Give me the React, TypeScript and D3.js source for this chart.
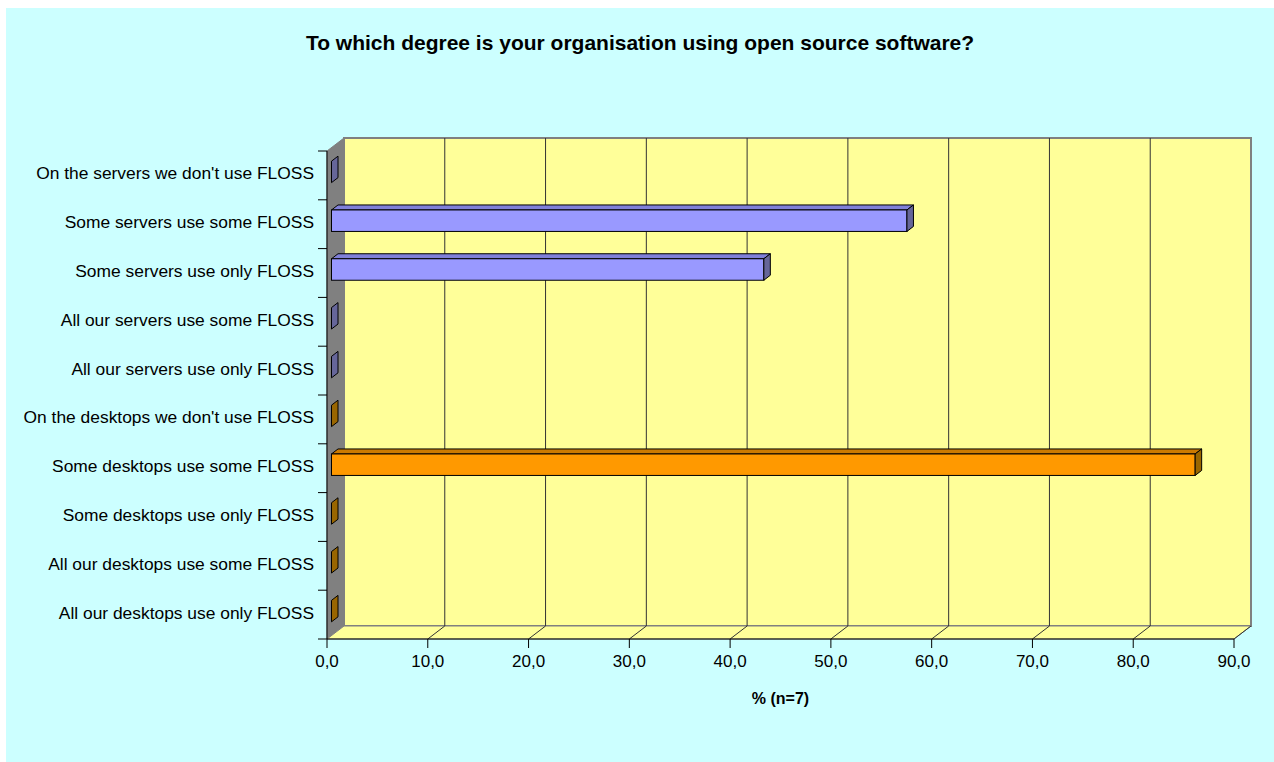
import React, { useRef, useEffect } from 'react';
import * as d3 from 'd3';

const categories = [
  "On the servers we don't use FLOSS",
  'Some servers use some FLOSS',
  'Some servers use only FLOSS',
  'All our servers use some FLOSS',
  'All our servers use only FLOSS',
  "On the desktops we don't use FLOSS",
  'Some desktops use some FLOSS',
  'Some desktops use only FLOSS',
  'All our desktops use some FLOSS',
  'All our desktops use only FLOSS',
];
const values = [0, 57.1, 42.9, 0, 0, 0, 85.7, 0, 0, 0];
const groups = ['servers', 'servers', 'servers', 'servers', 'servers', 'desktops', 'desktops', 'desktops', 'desktops', 'desktops'];
const xTicks = [0, 10, 20, 30, 40, 50, 60, 70, 80, 90];

const title = 'To which degree is your organisation using open source software?';
const xTitle = '% (n=7)';

const App = () => {
  const width = 1274;
  const height = 762;
  const ref = useRef<SVGSVGElement | null>(null);

  useEffect(() => {
    if (!ref.current) return;
    const svg = d3.select(ref.current);
    svg.selectAll('*').remove();
    const font = 'Liberation Sans, Arial, sans-serif';

    // plot frame (front plane) and depth offset of the 3d box
    const left = 327, right = 1234, top = 151, bottom = 639;
    const depth = { dx: 17, dy: -13 };
    const front = { dx: 4.5, dy: -3.5 };
    const back = { dx: 11, dy: -8.5 };

    const x = d3.scaleLinear().domain([0, 90]).range([left, right]);
    const y = d3.scaleBand<string>().domain(categories).range([top, bottom])
      .paddingInner(0.56).paddingOuter(0.28);
    const band = d3.scaleBand<string>().domain(categories).range([top, bottom]);

    const color = d3.scaleOrdinal<string, string>().domain(['servers', 'desktops']).range(['#9999FF', '#FF9900']);
    const topColor = d3.scaleOrdinal<string, string>().domain(['servers', 'desktops']).range(['#8080D9', '#CC7A00']);
    const sideColor = d3.scaleOrdinal<string, string>().domain(['servers', 'desktops']).range(['#666699', '#996600']);

    svg.append('rect').attr('x', 6).attr('y', 8).attr('width', width - 6).attr('height', height - 8)
      .style('fill', '#CCFFFF');

    const pts = (p: number[][]) => p.map(d => d.join(',')).join(' ');

    // back wall
    svg.append('polygon')
      .attr('points', pts([
        [left + depth.dx, top + depth.dy], [right + depth.dx, top + depth.dy],
        [right + depth.dx, bottom + depth.dy], [left + depth.dx, bottom + depth.dy]]))
      .style('fill', '#FFFF99').style('stroke', '#808080').style('stroke-width', 2);

    // side wall
    svg.append('polygon')
      .attr('points', pts([
        [left, top], [left + depth.dx, top + depth.dy],
        [left + depth.dx, bottom + depth.dy], [left, bottom]]))
      .style('fill', '#808080').style('stroke', '#808080');

    // floor
    svg.append('polygon')
      .attr('points', pts([
        [left, bottom], [left + depth.dx, bottom + depth.dy],
        [right + depth.dx, bottom + depth.dy], [right, bottom]]))
      .style('fill', '#FFFF99').style('stroke', '#808080');

    // gridlines on wall and floor
    const grid = svg.append('g');
    xTicks.slice(1).forEach(t => {
      grid.append('line')
        .attr('x1', x(t) + depth.dx).attr('x2', x(t) + depth.dx)
        .attr('y1', top + depth.dy).attr('y2', bottom + depth.dy)
        .style('stroke', t === 90 ? '#808080' : '#333').style('stroke-width', t === 90 ? 2 : 1);
      grid.append('line')
        .attr('x1', x(t)).attr('y1', bottom)
        .attr('x2', x(t) + depth.dx).attr('y2', bottom + depth.dy)
        .style('stroke', '#333');
    });

    // bars
    const bars = svg.append('g').style('stroke', '#000').style('stroke-width', 1);
    categories.forEach((c, i) => {
      const v = values[i];
      const g = groups[i];
      const x0 = x(0), x1 = x(v);
      const y0 = y(c) as number, h = y.bandwidth();
      if (v > 0) {
        bars.append('polygon')
          .attr('points', pts([
            [x0 + front.dx, y0 + front.dy], [x0 + back.dx, y0 + back.dy],
            [x1 + back.dx, y0 + back.dy], [x1 + front.dx, y0 + front.dy]]))
          .style('fill', topColor(g));
        bars.append('rect')
          .attr('x', x0 + front.dx).attr('y', y0 + front.dy)
          .attr('width', x1 - x0).attr('height', h)
          .style('fill', color(g));
      }
      bars.append('polygon')
        .attr('points', pts([
          [x1 + front.dx, y0 + front.dy], [x1 + back.dx, y0 + back.dy],
          [x1 + back.dx, y0 + h + back.dy], [x1 + front.dx, y0 + h + front.dy]]))
        .style('fill', sideColor(g));
    });

    // y axis
    const ya = svg.append('g');
    ya.append('line').attr('x1', left).attr('x2', left).attr('y1', top).attr('y2', bottom)
      .style('stroke', '#000');
    [...categories.map(c => band(c) as number), bottom].forEach(t => {
      ya.append('line').attr('x1', left - 9).attr('x2', left).attr('y1', t).attr('y2', t)
        .style('stroke', '#000');
    });
    ya.selectAll('text').data(categories).enter().append('text')
      .attr('x', left - 13)
      .attr('y', d => (band(d) as number) + band.bandwidth() / 2 - 2)
      .attr('text-anchor', 'end').attr('dominant-baseline', 'central')
      .style('font-family', font).style('font-size', '17.4px').style('fill', '#000')
      .text(d => d);

    // x axis
    const xa = svg.append('g');
    xa.append('line').attr('x1', left).attr('x2', right).attr('y1', bottom).attr('y2', bottom)
      .style('stroke', '#000');
    xTicks.forEach(t => {
      xa.append('line').attr('x1', x(t)).attr('x2', x(t)).attr('y1', bottom).attr('y2', bottom + 9)
        .style('stroke', '#000');
    });
    xa.selectAll('text').data(xTicks).enter().append('text')
      .attr('x', d => x(d)).attr('y', bottom + 22)
      .attr('text-anchor', 'middle').attr('dominant-baseline', 'central')
      .style('font-family', font).style('font-size', '17px').style('fill', '#000')
      .text(d => d3.format('.1f')(d).replace('.', ','));

    svg.append('text')
      .attr('x', (left + right) / 2).attr('y', 698)
      .attr('text-anchor', 'middle').attr('dominant-baseline', 'central')
      .style('font-family', font).style('font-size', '16px').style('font-weight', 'bold')
      .text(xTitle);

    svg.append('text')
      .attr('x', 640).attr('y', 42)
      .attr('text-anchor', 'middle').attr('dominant-baseline', 'central')
      .style('font-family', font).style('font-size', '21px').style('font-weight', 'bold')
      .text(title);
  }, []);

  return (
    <svg ref={ref} width={width} height={height}
      style={{ position: 'absolute', left: 0, top: 0, display: 'block' }} />
  );
};

export default App;
